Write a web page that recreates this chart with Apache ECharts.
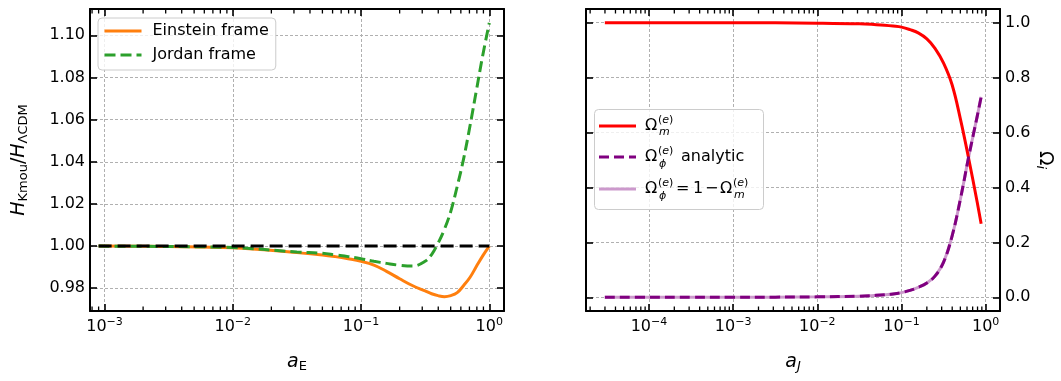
<!DOCTYPE html>
<html>
<head>
<meta charset="utf-8">
<script src="https://cdn.jsdelivr.net/npm/echarts@6.0.0/dist/echarts.min.js"></script>
<style>
  html, body { margin: 0; padding: 0; background: #fff; }
  #chart { width: 1061px; height: 381px; }
</style>
</head>
<body>
<div id="chart"></div>
<script>
// left panel: H ratio vs a_E
var aE = [0.0009, 0.00316, 0.01, 0.0316, 0.0501, 0.0631, 0.0794, 0.1, 0.126, 0.158, 0.2, 0.251,
          0.316, 0.355, 0.398, 0.447, 0.501, 0.562, 0.631, 0.708, 0.794, 0.891, 1.0];
var hEinstein = [1.0000, 0.9998, 0.9992, 0.9969, 0.9958, 0.9950, 0.9940, 0.9928, 0.9910, 0.9880, 0.9845, 0.9813,
                 0.9787, 0.9774, 0.9765, 0.9760, 0.9765, 0.9779, 0.9813, 0.9852, 0.9904, 0.9955, 1.0000];
var hJordan = [1.0000, 0.9998, 0.9993, 0.9972, 0.9966, 0.9958, 0.9950, 0.9940, 0.9928, 0.9918, 0.9909, 0.9905,
               0.9928, 0.9960, 1.0013, 1.0080, 1.0165, 1.0283, 1.0415, 1.0572, 1.0740, 1.0908, 1.1059];
var lcdmA = [0.0009, 1.0];
var lcdmH = [1.0, 1.0];

// right panel: density parameters vs a_J
var aJ = [2.99e-5, 1e-4, 3.16e-4, 1e-3, 3.16e-3, 0.01, 0.0316, 0.0501, 0.0631, 0.0794, 0.1, 0.126,
          0.158, 0.2, 0.251, 0.316, 0.398, 0.501, 0.631, 0.794, 0.883];
var omegaM = [1.0, 1.0, 1.0, 0.9998, 0.9995, 0.9985, 0.996, 0.993, 0.991, 0.988, 0.984, 0.975,
              0.963, 0.941, 0.906, 0.853, 0.775, 0.649, 0.502, 0.345, 0.268];
var omegaPhiAnalytic = [0.0, 0.0, 0.0, 0.0002, 0.0005, 0.0015, 0.004, 0.007, 0.009, 0.012, 0.017, 0.025,
                        0.036, 0.052, 0.078, 0.128, 0.222, 0.358, 0.515, 0.660, 0.730];
var omegaPhiOneMinus = [0.0, 0.0, 0.0, 0.0002, 0.0005, 0.0015, 0.004, 0.007, 0.009, 0.012, 0.017, 0.025,
                        0.036, 0.052, 0.078, 0.128, 0.222, 0.358, 0.515, 0.660, 0.730];

// tick labels
var leftYTicks = [0.98, 1.00, 1.02, 1.04, 1.06, 1.08, 1.10];
var rightYTicks = [0.0, 0.2, 0.4, 0.6, 0.8, 1.0];

var FONT = 'DejaVu Sans';

function pairs(xs, ys) {
  return xs.map(function (x, i) { return [x, ys[i]]; });
}

// short minor tick segments (2..9 x 10^n) at bottom and top edges, as a broken line
function minorTickData(ext, yExt, len) {
  var out = [];
  for (var n = -6; n <= 1; n++) {
    for (var k = 2; k <= 9; k++) {
      var v = k * Math.pow(10, n);
      if (v <= ext.min || v >= ext.max) continue;
      out.push([v, yExt.min], [v, yExt.min + len], [v, '-']);
      out.push([v, yExt.max], [v, yExt.max - len], [v, '-']);
    }
  }
  return out;
}

function decadeLabel(v) {
  var l = Math.log10(v);
  var e = Math.round(l);
  if (Math.abs(l - e) > 1e-6) return '';
  return '{b|10}{sup|' + (e < 0 ? '\u2212' + (-e) : e) + '}';
}

var tickRich = {
  b: { fontSize: 16, fontFamily: FONT, color: '#000', lineHeight: 20 },
  sup: { fontSize: 11, fontFamily: FONT, color: '#000', verticalAlign: 'top', lineHeight: 12 }
};

var frameLine = { show: true, onZero: false, lineStyle: { color: '#000', width: 2 } };
var majorTick = { show: true, inside: true, length: 7, lineStyle: { color: '#000', width: 1.6 } };
var gridLine = { show: true, lineStyle: { color: '#b0b0b0', width: 1, type: [3, 2] } };

var xLeft = { min: 7.71e-4, max: 1.302 };
var xRight = { min: 1.786e-5, max: 1.479 };
var yLeft = { min: 0.9692, max: 1.1125 };
var yRight = { min: -0.05, max: 1.05 };
var grids = [
  { left: 90, top: 9, width: 414, height: 302 },
  { left: 586, top: 9, width: 414, height: 302 }
];

function logX(grid, ext, pos, withLabels, name) {
  return {
    type: 'log', logBase: 10, gridIndex: grid, position: pos,
    min: ext.min, max: ext.max,
    axisLine: frameLine, axisTick: majorTick,
    splitLine: withLabels ? gridLine : { show: false },
    axisLabel: withLabels ? {
      show: true, interval: 0, margin: 6, formatter: decadeLabel, rich: tickRich,
      showMinLabel: true, showMaxLabel: true
    } : { show: false },
    name: name || '', nameLocation: 'middle', nameGap: 40,
    nameTextStyle: {
      rich: {
        i: { fontSize: 19, fontStyle: 'italic', fontFamily: FONT, color: '#000', lineHeight: 22 },
        s: { fontSize: 13, fontFamily: FONT, color: '#000', verticalAlign: 'bottom', lineHeight: 14 },
        si: { fontSize: 13, fontStyle: 'italic', fontFamily: FONT, color: '#000', verticalAlign: 'bottom', lineHeight: 14 }
      }
    }
  };
}

function valY(grid, ext, pos, ticks, withLabels, withSplit, fmt) {
  return {
    type: 'value', gridIndex: grid, position: pos,
    min: ext.min, max: ext.max,
    axisLine: frameLine,
    axisTick: { show: true, inside: true, length: 7, lineStyle: { color: '#000', width: 1.6 }, customValues: ticks },
    splitLine: withSplit ? gridLine : { show: false },
    axisLabel: withLabels ? {
      show: true, margin: 5, customValues: ticks, formatter: fmt,
      fontSize: 16, fontFamily: FONT, color: '#000'
    } : { show: false, customValues: ticks }
  };
}

function txt(x, y, text, size, italic) {
  return { type: 'text', x: x, y: y, z: 11,
    style: { text: text, font: (italic ? 'italic ' : '') + size + 'px "DejaVu Sans"', fill: '#000', verticalAlign: 'middle' } };
}
function supE(x, y) {
  return { type: 'text', x: x, y: y, z: 11,
    style: { text: '({i|e})', font: '11px "DejaVu Sans"', fill: '#000', verticalAlign: 'middle',
      rich: { i: { fontStyle: 'italic', fontSize: 11, fontFamily: FONT, color: '#000' } } } };
}

// legend of the right panel (math labels)
var rightLegend = [
  { type: 'rect', left: 594, top: 109, shape: { width: 169, height: 100, r: 4 },
    style: { fill: 'rgba(255,255,255,0.8)', stroke: '#cccccc', lineWidth: 1 }, z: 10 },
  { type: 'line', shape: { x1: 599, y1: 126, x2: 636, y2: 126 }, style: { stroke: '#ff0000', lineWidth: 3 }, z: 11 },
  { type: 'line', shape: { x1: 599, y1: 157, x2: 636, y2: 157 }, style: { stroke: '#800080', lineWidth: 3, lineDash: [10, 5] }, z: 11 },
  { type: 'line', shape: { x1: 599, y1: 189, x2: 636, y2: 189 }, style: { stroke: '#cc99cc', lineWidth: 3 }, z: 11 },
  txt(645, 126, '\u03A9', 16), supE(658, 120), txt(659, 132, 'm', 11, true),
  txt(645, 157, '\u03A9', 16), supE(658, 151), txt(659, 164, '\u03D5', 11, true), txt(681, 157, 'analytic', 16),
  txt(645, 189, '\u03A9', 16), supE(658, 183), txt(659, 196, '\u03D5', 11, true),
  txt(676, 189, '=', 16), txt(693, 189, '1', 16), txt(705, 189, '\u2212', 16),
  txt(720, 189, '\u03A9', 16), supE(733, 183), txt(734, 195, 'm', 11, true)
];

var chart = echarts.init(document.getElementById('chart'));

var option = {
  animation: false,
  backgroundColor: '#fff',
  grid: grids.map(function (g) { return Object.assign({ show: false }, g); }),
  xAxis: [
    logX(0, xLeft, 'bottom', true, '{i|a}{s|E}'),
    logX(0, xLeft, 'top', false),
    logX(1, xRight, 'bottom', true, '{i|a}{si|J}'),
    logX(1, xRight, 'top', false)
  ],
  yAxis: [
    Object.assign(valY(0, yLeft, 'left', leftYTicks, true, true, function (v) { return v.toFixed(2); }), {
      name: '{i|H}{s|Kmou}{n|/}{i|H}{s|\u039BCDM}',
      nameLocation: 'middle', nameRotate: 90, nameGap: 60,
      nameTextStyle: {
        rich: {
          i: { fontSize: 19, fontStyle: 'italic', fontFamily: FONT, color: '#000', lineHeight: 22 },
          n: { fontSize: 19, fontFamily: FONT, color: '#000', lineHeight: 22 },
          s: { fontSize: 13, fontFamily: FONT, color: '#000', verticalAlign: 'bottom', lineHeight: 14 }
        }
      }
    }),
    valY(0, yLeft, 'right', leftYTicks, false, false),
    Object.assign(valY(1, yRight, 'right', rightYTicks, true, true, function (v) { return v.toFixed(1); }), {
      name: '{o|\u03A9}{si|i}',
      nameLocation: 'middle', nameRotate: -90, nameGap: 34,
      nameTextStyle: {
        rich: {
          o: { fontSize: 19, fontFamily: FONT, color: '#000', lineHeight: 22 },
          si: { fontSize: 13, fontStyle: 'italic', fontFamily: FONT, color: '#000', verticalAlign: 'bottom', lineHeight: 14 }
        }
      }
    }),
    valY(1, yRight, 'left', rightYTicks, false, false)
  ],
  legend: {
    data: ['Einstein frame', 'Jordan frame'],
    orient: 'vertical', left: 98, top: 18,
    itemWidth: 37, itemHeight: 14, itemGap: 6,
    padding: [4, 7, 6, 5],
    borderColor: '#cccccc', borderWidth: 1, borderRadius: 4,
    backgroundColor: 'rgba(255,255,255,0.8)',
    itemStyle: { opacity: 0 },
    lineStyle: { width: 3 },
    textStyle: { fontSize: 16, fontFamily: FONT, color: '#000', lineHeight: 18, padding: [0, 0, 0, 6] }
  },
  graphic: rightLegend,
  series: [
    { name: 'Einstein frame', type: 'line', xAxisIndex: 0, yAxisIndex: 0, data: pairs(aE, hEinstein),
      symbol: 'none', smooth: 0.4,
      color: '#ff7f0e', lineStyle: { color: '#ff7f0e', width: 3 }, z: 3 },
    { name: 'Jordan frame', type: 'line', xAxisIndex: 0, yAxisIndex: 0, data: pairs(aE, hJordan),
      symbol: 'none', smooth: 0.4,
      color: '#2ca02c', lineStyle: { color: '#2ca02c', width: 3, type: [11, 5] }, z: 4 },
    { name: 'LCDM', type: 'line', xAxisIndex: 0, yAxisIndex: 0, data: pairs(lcdmA, lcdmH),
      symbol: 'none', lineStyle: { color: '#000', width: 3, type: [13, 6] }, z: 5 },

    { name: 'omega_phi_1m', type: 'line', xAxisIndex: 2, yAxisIndex: 2, data: pairs(aJ, omegaPhiOneMinus),
      symbol: 'none', smooth: 0.4, lineStyle: { color: '#cc99cc', width: 3 }, z: 3 },
    { name: 'omega_m', type: 'line', xAxisIndex: 2, yAxisIndex: 2, data: pairs(aJ, omegaM),
      symbol: 'none', smooth: 0.4, lineStyle: { color: '#ff0000', width: 3 }, z: 4 },
    { name: 'omega_phi_an', type: 'line', xAxisIndex: 2, yAxisIndex: 2, data: pairs(aJ, omegaPhiAnalytic),
      symbol: 'none', smooth: 0.4, lineStyle: { color: '#800080', width: 3, type: [10, 5] }, z: 5 },

    // minor ticks: about 4.5 px long
    { name: 'minor ticks left', type: 'line', xAxisIndex: 0, yAxisIndex: 0, silent: true, z: 6,
      data: minorTickData(xLeft, yLeft, 0.0021), symbol: 'none', connectNulls: false,
      lineStyle: { color: '#000', width: 1.3 } },
    { name: 'minor ticks right', type: 'line', xAxisIndex: 2, yAxisIndex: 2, silent: true, z: 6,
      data: minorTickData(xRight, yRight, 0.0164), symbol: 'none', connectNulls: false,
      lineStyle: { color: '#000', width: 1.3 } }
  ]
};

chart.setOption(option);
</script>
</body>
</html>
